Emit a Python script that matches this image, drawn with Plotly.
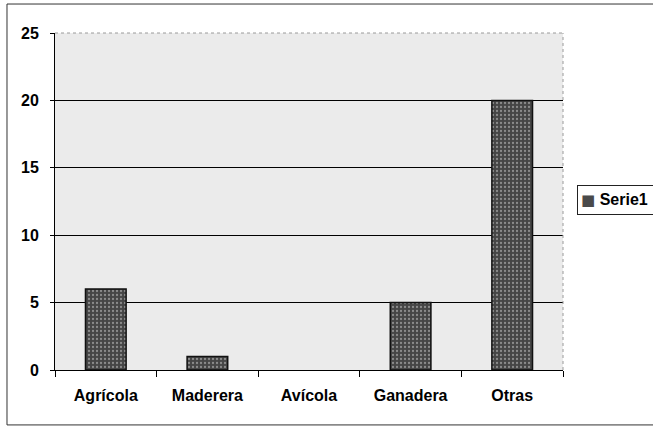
import plotly.graph_objects as go

# Sector counts
categories = ["Agrícola", "Maderera", "Avícola", "Ganadera", "Otras"]
serie1 = [6, 1, 0, 5, 20]
series_name = "Serie1"
y_ticks = [0, 5, 10, 15, 20, 25]

FONT = "Liberation Sans, Arial, sans-serif"
BAR_COLOR = "#4a4a4a"

# no outline on empty bars
outline_widths = [1.5 if v > 0 else 0 for v in serie1]

fig = go.Figure()
fig.add_trace(go.Bar(
    x=categories,
    y=serie1,
    name=series_name,
    width=0.4,
    showlegend=False,
    marker=dict(
        color=BAR_COLOR,
        line=dict(color="#111111", width=outline_widths),
        pattern=dict(shape=".", fgcolor="#8c8c8c", bgcolor="#454545",
                     size=4, solidity=0.25, fillmode="replace"),
    ),
))

# compact legend box to the right of the plot area
legend_text = (f"<span style='color:{BAR_COLOR};font-family:DejaVu Sans;"
               f"font-size:15px'>■</span>"
               f"<b> {series_name}</b>")

fig.update_layout(
    width=653,
    height=428,
    margin=dict(l=55, r=90, t=33, b=58, autoexpand=False),
    paper_bgcolor="white",
    plot_bgcolor="#ebebeb",
    font=dict(family=FONT, size=16, color="black"),
    bargap=0.6,
    annotations=[
        dict(xref="paper", yref="paper",
             x=1.027, xanchor="left", y=0.504, yanchor="middle",
             text=legend_text, showarrow=False, align="left",
             width=100, height=22,
             bordercolor="#222222", borderwidth=1, borderpad=3,
             bgcolor="white",
             font=dict(family=FONT, size=16, color="black")),
    ],
    shapes=[
        # outer chart frame
        dict(type="rect", xref="paper", yref="paper",
             x0=-0.0945, x1=1.25, y0=-0.163, y1=1.086,
             line=dict(color="#333333", width=1)),
        # light edges of the plot area
        dict(type="line", xref="paper", yref="paper",
             x0=1, x1=1, y0=0, y1=1,
             line=dict(color="#9a9a9a", width=1, dash="dot")),
        dict(type="line", xref="paper", yref="paper",
             x0=0, x1=1, y0=1, y1=1,
             line=dict(color="#9a9a9a", width=1, dash="dot")),
    ],
)

fig.update_xaxes(
    showline=True, linecolor="black", linewidth=1,
    ticks="outside", ticklen=6, tickcolor="black",
    tickson="boundaries",
    showgrid=False,
    tickfont=dict(family=FONT, size=16, weight="bold"),
    ticklabelstandoff=11,
)
fig.update_yaxes(
    range=[0, 25],
    tickvals=y_ticks,
    showline=True, linecolor="black", linewidth=1,
    ticks="outside", ticklen=4, tickcolor="black",
    showgrid=True, gridcolor="black", gridwidth=1,
    zeroline=False,
    tickfont=dict(family=FONT, size=16, weight="bold"),
    ticklabelstandoff=8,
)

fig.write_html("out.html")
